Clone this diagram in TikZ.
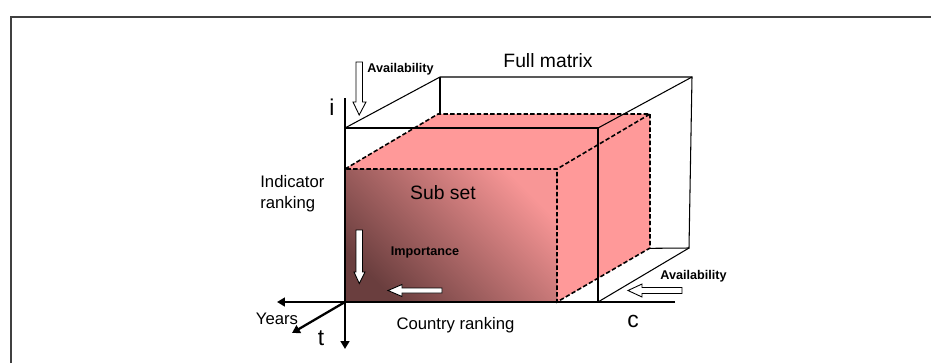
\documentclass[tikz,border=0pt]{standalone}
\usepackage{fontspec}
\setmainfont{Liberation Sans}
\usepackage{xcolor}
\usetikzlibrary{arrows.meta}
\definecolor{subpink}{HTML}{FF9999}
\definecolor{subdark}{HTML}{6A3E3E}
\definecolor{submid}{HTML}{C97A7A}
\definecolor{sublight}{HTML}{F89696}

\begin{document}
\begin{tikzpicture}[x=0.02cm,y=-0.02cm,
  font=\fontsize{9.5}{11}\selectfont,
  frameline/.style={black!75,line width=1.1pt},
  fullline/.style={black,line width=0.6pt},
  subline/.style={black,line width=0.9pt,dash pattern=on 2.5pt off 1.3pt},
  axisline/.style={black,line width=1.3pt,-{Triangle[length=4.5pt,width=5pt]}},
  hollow/.style={draw=black,fill=white,line width=0.5pt},
  boldlab/.style={font=\fontsize{7.2}{8}\selectfont\bfseries},
  letterlab/.style={font=\fontsize{13}{15}\selectfont}]
  \useasboundingbox (0,0) rectangle (931,363);
  % --- outer frame (cut by the page on right and bottom) ---
  \draw[frameline] (11,363) -- (11,17) -- (931,17);

  % --- corners of the full matrix and of the sub set ---
  \coordinate (o)  at (345,302);
  \coordinate (fA) at (345,128);
  \coordinate (fB) at (598,128);
  \coordinate (fC) at (598,302);
  \coordinate (fE) at (440,77);
  \coordinate (fF) at (692,77);
  \coordinate (fG) at (689,248);
  \coordinate (fH) at (440,250);
  \coordinate (sA) at (345,169);
  \coordinate (sB) at (557,169);
  \coordinate (sC) at (557,302);
  \coordinate (sE) at (438,114);
  \coordinate (sF) at (650,114);
  \coordinate (sG) at (650,248);

  % Full matrix: back edges (partly hidden by the sub set)
  \draw[fullline] (fA) -- (fE) -- (fF) -- (fG) -- (fH);
  \draw[fullline] (fE) -- (fH);

  % Sub set: filled faces
  \fill[subpink] (sA) -- (sE) -- (sF) -- (sB) -- cycle;
  \fill[subpink] (sB) -- (sF) -- (sG) -- (sC) -- cycle;
  \shade[bottom color=subdark,middle color=submid,top color=sublight,shading angle=-45]
    (sA) rectangle (sC);
  % Sub set: dashed outline
  \draw[subline] (sA) -- (sE) -- (sF) -- (sB) -- cycle;
  \draw[subline] (sF) -- (sG) -- (sC) -- (sB);
  \draw[subline] (sC) -- (o);

  % Full matrix: front edges drawn over the sub set
  \draw[fullline] (fA) -- (fB) -- (fC);
  \draw[fullline] (fB) -- (fF);
  \draw[fullline] (fC) -- (fG);

  % --- axes ---
  \coordinate (itop) at (345,98);
  \coordinate (ibot) at (345,349);
  \coordinate (xl)   at (277,302);
  \coordinate (xr)   at (675,302);
  \coordinate (tt)   at (292,333);
  \draw[axisline] (itop) -- (ibot);
  \draw[axisline] (xr) -- (xl);
  \draw[axisline] (o) -- (tt);

  % --- hollow block arrows ---
  % availability (top), pointing down
  \draw[hollow] (356,62) -- (362.5,62) -- (362.5,102) -- (366,102) -- (359.2,115)
    -- (353,102) -- (356,102) -- cycle;
  % importance, pointing down
  \draw[hollow] (356,230) -- (362.5,230) -- (362.5,272) -- (365,272) -- (359.3,283.5)
    -- (354,272) -- (356,272) -- cycle;
  % importance, pointing left
  \draw[hollow] (442,288) -- (442,293) -- (402,293) -- (402,296.5) -- (388,290.5)
    -- (402,284.5) -- (402,288) -- cycle;
  % availability (right), pointing left
  \draw[hollow] (682,287.5) -- (682,293.5) -- (642,293.5) -- (642,297) -- (628,290.5)
    -- (642,284) -- (642,287.5) -- cycle;

  % --- labels ---
  \node[boldlab,anchor=base west,inner sep=0pt] (availtop) at (367,72) {Availability};
  \node[font=\fontsize{11}{13}\selectfont,anchor=base,inner sep=0pt] (fulllab) at (548,67) {Full matrix};
  \node[letterlab,anchor=base,inner sep=0pt] (ilab) at (332,115) {i};
  \node[anchor=base west,inner sep=0pt] (indlab) at (260,187) {Indicator};
  \node[anchor=base west,inner sep=0pt] (ranklab) at (260,208) {ranking};
  \node[font=\fontsize{11}{13}\selectfont,anchor=base,inner sep=0pt] (sublab) at (443,199) {Sub set};
  \node[boldlab,anchor=base,inner sep=0pt] (implab) at (425,255) {Importance};
  \node[boldlab,anchor=base west,inner sep=0pt] (availright) at (660,279) {Availability};
  \node[anchor=base,inner sep=0pt] (yearslab) at (277,324) {Years};
  \node[letterlab,anchor=base,inner sep=0pt] (tlab) at (321,345) {t};
  \node[anchor=base,inner sep=0pt] (ctrylab) at (455.5,329) {Country ranking};
  \node[letterlab,anchor=base,inner sep=0pt] (clab) at (633,327) {c};
\end{tikzpicture}
\end{document}
